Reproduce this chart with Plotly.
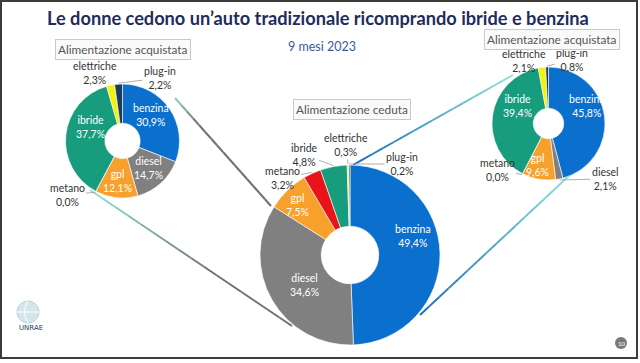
import math
import plotly.graph_objects as go

W, H = 640, 363

# ---------------- data ----------------
categories = ["benzina", "diesel", "gpl", "metano", "ibride", "elettriche", "plug-in"]
colors = ["#0b6fce", "#808080", "#f7a12c", "#e8141a", "#189c7e", "#f2f20f", "#1b3a5c"]

left_values = [30.9, 14.7, 12.1, 0.0, 37.7, 2.3, 2.2]      # Alimentazione acquistata (sinistra)
center_values = [49.4, 34.6, 7.5, 3.2, 4.8, 0.3, 0.2]      # Alimentazione ceduta
right_values = [45.8, 2.1, 9.6, 0.0, 39.4, 2.1, 0.8]       # Alimentazione acquistata (destra)

title_text = "Le donne cedono un’auto tradizionale ricomprando ibride e benzina"
subtitle_text = "9 mesi 2023"
box_texts = ["Alimentazione acquistata", "Alimentazione ceduta", "Alimentazione acquistata"]

# ---------------- layout geometry (pixels) ----------------
pies = [
    dict(values=left_values, cx=122.5, cy=141, r=57, hole=0.31, box=(123, 49.5),
         labels={"benzina": (151, 115, True), "diesel": (148, 168, True), "gpl": (117, 181, True),
                 "metano": (67, 195, False), "ibride": (90, 127, True),
                 "elettriche": (95, 73, False), "plug-in": (160, 78, False)}),
    dict(values=center_values, cx=350, cy=255, r=90, hole=0.32, box=(351.5, 110),
         labels={"benzina": (413, 236, True), "diesel": (304, 285, True), "gpl": (297, 205, True),
                 "metano": (282, 178, False), "ibride": (304, 155, False),
                 "elettriche": (346, 145, False), "plug-in": (402, 164, False)}),
    dict(values=right_values, cx=548.5, cy=123.5, r=56.5, hole=0.27, box=(551.5, 39.5),
         labels={"benzina": (587, 106, True), "diesel": (605, 179, False), "gpl": (537, 165, True),
                 "metano": (497, 170, False), "ibride": (517, 106, True),
                 "elettriche": (524, 61, False), "plug-in": (572, 60, False)}),
]


def px(x):
    return x / W


def py(y):
    return 1 - y / H


def fmt(v):
    return f"{v:.1f}".replace(".", ",") + "%"


FONT = "Lato, 'Open Sans', sans-serif"
ANC = dict(xref="paper", yref="paper", xanchor="center", yanchor="middle")

fig = go.Figure()
annotations = []
shapes = []

for p in pies:
    cx, cy, r = p["cx"], p["cy"], p["r"]
    fig.add_trace(go.Pie(
        labels=categories, values=p["values"], sort=False, direction="clockwise", rotation=0,
        hole=p["hole"], textinfo="none", hoverinfo="skip", showlegend=False,
        marker=dict(colors=colors, line=dict(color="white", width=0.6)),
        domain=dict(x=[px(cx - r), px(cx + r)], y=[py(cy + r), py(cy - r)]),
    ))
    total = sum(p["values"])
    cum = 0.0
    for cat, v in zip(categories, p["values"]):
        mid = (cum + v / 2) / total * 2 * math.pi
        cum += v
        lx, ly, inside = p["labels"][cat]
        txt = f"{cat}<br>{fmt(v)}"
        if inside:
            annotations.append(dict(x=px(lx), y=py(ly), text=txt, showarrow=False,
                                    font=dict(family=FONT, size=10.5, color="white"), **ANC))
        else:
            hx = cx + (r + 1) * math.sin(mid)
            hy = cy - (r + 1) * math.cos(mid)
            annotations.append(dict(x=px(hx), y=py(hy), text=txt,
                                    showarrow=True, arrowhead=0, arrowwidth=0.8, arrowcolor="#9a9a9a",
                                    ax=lx - hx, ay=ly - hy, standoff=0,
                                    font=dict(family=FONT, size=10.5, color="#333333"), **ANC))

for p, t in zip(pies, box_texts):
    bx, by = p["box"]
    annotations.append(dict(x=px(bx), y=py(by), text=t, showarrow=False,
                            font=dict(family=FONT, size=11.8, color="#555555"),
                            bgcolor="#fafafa", bordercolor="#c9c9c9", borderwidth=1, borderpad=2, **ANC))

annotations.append(dict(x=px(318), y=py(18), text=f"<b>{title_text}</b>", showarrow=False,
                        font=dict(family=FONT, size=18.2, color="#1f2d5c"), **ANC))
annotations.append(dict(x=px(322), y=py(47), text=subtitle_text, showarrow=False,
                        font=dict(family=FONT, size=12.5, color="#3d5a96"), **ANC))


# connector lines (decorative) drawn as gradient segments
def hex2rgb(h):
    h = h.lstrip("#")
    return [int(h[i:i + 2], 16) for i in (0, 2, 4)]


def grad_line(p0, p1, c0, c1, mix=1.0, n=16, width=2):
    a, b = hex2rgb(c0), hex2rgb(c1)
    for i in range(n):
        t0, t1 = i / n, (i + 1) / n
        tm = min(1.0, ((t0 + t1) / 2) / mix)
        col = "rgb({},{},{})".format(*[round(a[k] + (b[k] - a[k]) * tm) for k in range(3)])
        x0 = p0[0] + (p1[0] - p0[0]) * t0
        y0 = p0[1] + (p1[1] - p0[1]) * t0
        x1 = p0[0] + (p1[0] - p0[0]) * t1
        y1 = p0[1] + (p1[1] - p0[1]) * t1
        shapes.append(dict(type="line", xref="paper", yref="paper", x0=px(x0), y0=py(y0),
                           x1=px(x1), y1=py(y1), line=dict(color=col, width=width), layer="below"))


grad_line((175, 98), (271, 206), "#8fd8c8", "#707070", mix=0.25)
grad_line((90, 190), (292, 326), "#8ee6d6", "#707070", mix=0.6)
grad_line((513, 75), (353, 165), "#8ee6d6", "#1a6ab8", mix=1.0)
grad_line((572, 173), (420, 315), "#8ee6d6", "#1a6ab8", mix=1.0)

# frame
shapes.append(dict(type="rect", xref="paper", yref="paper", x0=px(1), y0=py(358), x1=px(637), y1=py(1),
                   line=dict(color="#3c3c3c", width=2), layer="above"))

# logo (globe + text)
shapes.append(dict(type="circle", xref="paper", yref="paper", x0=px(17), y0=py(323), x1=px(39), y1=py(301),
                   line=dict(color="#b8d4dc", width=1), fillcolor="#d3e6ec", layer="above"))
shapes.append(dict(type="path", xref="paper", yref="paper",
                   path=f"M {px(28)} {py(301)} Q {px(21)} {py(312)} {px(28)} {py(323)}",
                   line=dict(color="#ffffff", width=1), layer="above"))
shapes.append(dict(type="line", xref="paper", yref="paper", x0=px(17), y0=py(312), x1=px(39), y1=py(312),
                   line=dict(color="#ffffff", width=1), layer="above"))
annotations.append(dict(x=px(31), y=py(328), text="UNRAE", showarrow=False,
                        font=dict(family="DejaVu Sans", size=7, color="#2a3a6a"), **ANC))

# page number
shapes.append(dict(type="circle", xref="paper", yref="paper", x0=px(615), y0=py(349), x1=px(627), y1=py(337),
                   line=dict(color="#777777", width=0), fillcolor="#7a7a7a", layer="above"))
annotations.append(dict(x=px(621), y=py(343), text="10", showarrow=False,
                        font=dict(family=FONT, size=6, color="white"), **ANC))

fig.update_layout(
    width=W, height=H, margin=dict(l=0, r=0, t=0, b=0),
    paper_bgcolor="white", plot_bgcolor="white",
    annotations=annotations, shapes=shapes, separators=",.",
)

fig.write_html("out.html", config={"displayModeBar": False},
               post_script="document.body.style.margin='0px';document.body.style.overflow='hidden';")
